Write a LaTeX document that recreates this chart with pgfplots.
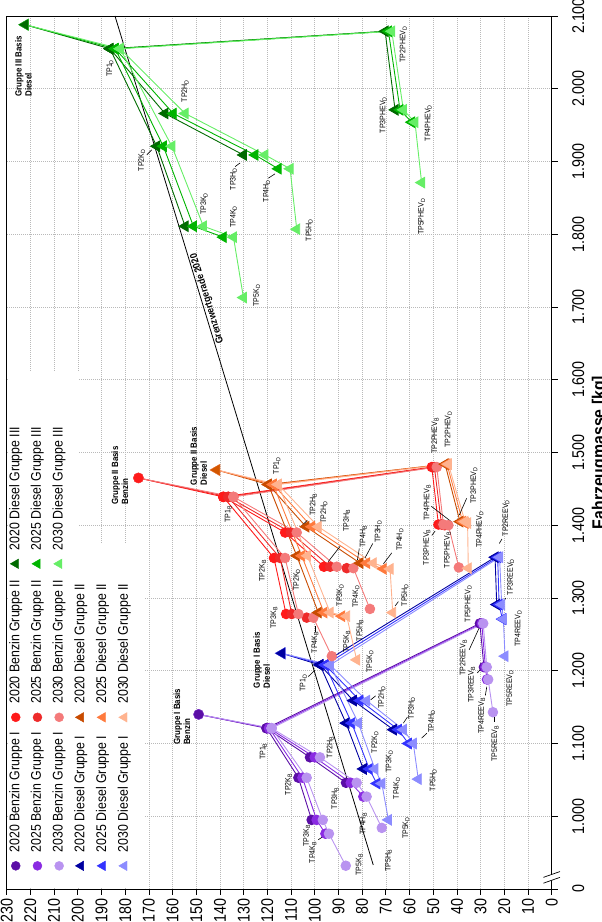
\documentclass[border=0pt]{standalone}
\usepackage{fontspec}
\setmainfont{Liberation Sans}
\newfontfamily\nar[FakeStretch=0.88]{Liberation Sans}
\newfontfamily\tnar[FakeStretch=0.84]{Liberation Sans}
\usepackage{graphicx}
\usepackage{pgfplots}
\pgfplotsset{compat=1.18}

% Gruppe I Benzin / Diesel, Gruppe II Benzin / Diesel, Gruppe III Diesel
\definecolor{pA}{HTML}{5B0EA6}
\definecolor{pB}{HTML}{8A2BE2}
\definecolor{pC}{HTML}{B993F0}
\definecolor{bA}{HTML}{0000A0}
\definecolor{bB}{HTML}{3333FF}
\definecolor{bC}{HTML}{8C8CFF}
\definecolor{rA}{HTML}{FF1A1A}
\definecolor{rB}{HTML}{EE2A2A}
\definecolor{rC}{HTML}{F47A7A}
\definecolor{oA}{HTML}{C84B00}
\definecolor{oB}{HTML}{FF7A3D}
\definecolor{oC}{HTML}{FFB38F}
\definecolor{gA}{HTML}{006B00}
\definecolor{gB}{HTML}{00B400}
\definecolor{gC}{HTML}{66EE66}

\newcommand\tp[2]{#1\textsubscript{#2}}
\newcommand\lent[2]{\makebox[#1][l]{#2}}

\pgfplotsset{
  ser/.style 2 args={color=#1, line width=0.9pt, mark=#2,
    mark options={solid, fill=#1, draw=#1}, unbounded coords=jump},
  circ/.style={ser={#1}{*}, mark size=4.8pt},
  tri/.style={ser={#1}{triangle*}, mark size=6pt},
  lc/.style={only marks, mark=*, mark size=4.5pt, draw=#1, fill=#1},
  lt/.style={only marks, mark=triangle*, mark size=5.5pt, draw=#1, fill=#1},
}
\tikzset{
  lb/.style={font=\nar\fontsize{8}{8}\selectfont, inner sep=0pt},
  gb/.style={font=\nar\bfseries\fontsize{9}{10}\selectfont, inner sep=0pt, align=left, anchor=west},
  ld/.style={black, line width=0.6pt},
}

\begin{document}
\rotatebox{90}{%
\begin{tikzpicture}
\useasboundingbox (-33pt,-50.3pt) rectangle (889pt,551.7pt);
\begin{axis}[
  at={(0,0)}, anchor=south west,
  scale only axis, width=873pt, height=545pt,
  xmin=900, xmax=2100, ymin=0, ymax=230,
  clip=false,
  axis line style={black, line width=0.8pt},
  xtick={900,1000,...,2100},
  xticklabels={0,1.000,1.100,1.200,1.300,1.400,1.500,1.600,1.700,1.800,1.900,2.000,2.100},
  ytick={0,10,...,230},
  /pgf/number format/assume math mode=true,
  tick align=outside, xtick pos=bottom, ytick pos=left,
  major tick length=6pt,
  tick style={black, line width=0.7pt},
  grid=major,
  major grid style={gray!55, line width=0.5pt, dash pattern=on 1pt off 1pt},
  ticklabel style={font=\tnar\fontsize{17}{17}\selectfont},
  xticklabel style={yshift=-11pt},
  xlabel={Fahrzeugmasse [kg]},
  xlabel style={font=\nar\bfseries\fontsize{18}{18}\selectfont,
    at={(axis description cs:0.5,0)}, anchor=north, inner sep=0pt, yshift=-40pt},
  legend columns=3,
  legend cell align=left,
  legend image code/.code={\draw[#1] plot coordinates {(0pt,0pt)};},
  legend style={at={(axis cs:925,229)}, anchor=north west, draw=none, fill=none,
    inner sep=0pt, row sep=8.7pt,
    font=\nar\fontsize{14}{14}\selectfont,
    nodes={inner sep=0pt, text height=10pt, text depth=3pt},
    /tikz/every odd column/.append style={column sep=9pt}},
]
% white box behind the legend
\fill[white] (axis cs:901,171.5) rectangle (axis cs:1375,229.6);
\fill[white] (axis cs:1375,199.5) rectangle (axis cs:1610,229.6);

% Grenzwertgerade 2020
\addplot[black, line width=0.8pt, forget plot] coordinates {(933,75.3) (2100,184.3)}
  node[pos=0.665, below=0pt, inner sep=1pt, sloped, font=\nar\bfseries\fontsize{10}{10}\selectfont] {Grenzwertgerade 2020};

% ---- Gruppe I Benzin
\addplot[circ=pA, forget plot] coordinates {
 (1140,149) (1121,120.3) (1053,106.9) (995,101.3) (nan,nan)
 (1121,120.3) (1081,102) (1046,86.8) (nan,nan)
 (1121,120.3) (1265,30.3) (1205,28.6)};
\addplot[circ=pB, forget plot] coordinates {
 (1140,149) (1121,119.2) (1053,105.2) (995,99.2) (976,95.5) (nan,nan)
 (1121,119.2) (1081,100) (1046,84.8) (1027,79.5) (nan,nan)
 (1121,119.2) (1265,29.5) (1205,28) (1188,27.3)};
\addplot[circ=pC, forget plot] coordinates {
 (1140,149) (1121,118.2) (1053,103.4) (995,96.6) (976,94) (932,86.9) (nan,nan)
 (1121,118.2) (1081,97.8) (1046,82.3) (1027,78.1) (984,71.7) (nan,nan)
 (1121,118.2) (1265,28.9) (1205,27.4) (1188,26.8) (1143,24.8)};
% ---- Gruppe I Diesel
\addplot[tri=bA, forget plot] coordinates {
 (1224,113.9) (1208,97.8) (1128,86.8) (1065,79.5) (nan,nan)
 (1208,97.8) (1159,83.7) (1119,66.8) (nan,nan)
 (1208,97.8) (1356,23.9) (1291,23.2)};
\addplot[tri=bB, forget plot] coordinates {
 (1224,113.9) (1208,95.6) (1128,84.4) (1065,77) (1045,73.8) (nan,nan)
 (1208,95.6) (1159,80.9) (1119,64.7) (1100,60.5) (nan,nan)
 (1208,95.6) (1356,22.8) (1291,22.2) (1271,20.8)};
\addplot[tri=bC, forget plot] coordinates {
 (1224,113.9) (1208,93.5) (1128,81.6) (1065,74.6) (1045,71.7) (995,68.9) (nan,nan)
 (1208,93.5) (1159,78.1) (1119,62.6) (1100,58.4) (1051,56.3) (nan,nan)
 (1208,93.5) (1356,22) (1291,21.1) (1271,20.4) (1220,19.7)};
% ---- Gruppe II Benzin
\addplot[circ=rA, forget plot] coordinates {
 (1465,174.4) (1439,138.6) (1355,117.2) (1278,112.1) (nan,nan)
 (1439,138.6) (1390,112.5) (1343,96.1) (nan,nan)
 (1439,138.6) (1480,50.6) (1401,47.8)};
\addplot[circ=rB, forget plot] coordinates {
 (1465,174.4) (1439,136.5) (1355,114.6) (1278,109.7) (1273,103.4) (nan,nan)
 (1439,136.5) (1390,110.1) (1343,93.5) (1341,86.5) (nan,nan)
 (1439,136.5) (1480,49.5) (1401,46.5) (1400,45.2)};
\addplot[circ=rC, forget plot] coordinates {
 (1465,174.4) (1439,134.3) (1355,112.5) (1278,106.9) (1273,100.6) (1220,92.8) (nan,nan)
 (1439,134.3) (1390,107.6) (1343,90.7) (1341,83.7) (1285,76.7) (nan,nan)
 (1439,134.3) (1480,48.5) (1401,45.7) (1400,43.6) (1342,39.2)};
% ---- Gruppe II Diesel
\addplot[tri=oA, forget plot] coordinates {
 (1476,141.4) (1456,119.6) (1358,107.6) (1280,98.5) (nan,nan)
 (1456,119.6) (1398,103.7) (1348,80.9) (nan,nan)
 (1456,119.6) (1484,45) (1405,38.7)};
\addplot[tri=oB, forget plot] coordinates {
 (1476,141.4) (1456,117.5) (1358,105.5) (1280,96.1) (1275,88.6) (nan,nan)
 (1456,117.5) (1398,101.3) (1348,78.1) (1340,71.1) (nan,nan)
 (1456,117.5) (1484,44.2) (1405,37.6) (1403,36.5)};
\addplot[tri=oC, forget plot] coordinates {
 (1476,141.4) (1456,115.4) (1358,103.1) (1280,93.5) (1275,86.5) (1215,82.3) (nan,nan)
 (1456,115.4) (1398,98.5) (1348,75.3) (1340,68.2) (1280,67.1) (nan,nan)
 (1456,115.4) (1484,43.6) (1405,36.6) (1403,35.5) (1341,35.2)};
% ---- Gruppe III Diesel
\addplot[tri=gA, forget plot] coordinates {
 (2088,222.2) (2055,186.4) (1921,166.7) (1811,154.7) (nan,nan)
 (2055,186.4) (1966,163.2) (1909,130.1) (nan,nan)
 (2055,186.4) (2079,70.3) (1971,66.1)};
\addplot[tri=gB, forget plot] coordinates {
 (2088,222.2) (2055,184.2) (1921,163.9) (1811,151.2) (1796,138.6) (nan,nan)
 (2055,184.2) (1966,159.7) (1909,125.2) (1890,115.4) (nan,nan)
 (2055,184.2) (2079,68.9) (1971,64) (1954,59.1)};
\addplot[tri=gC, forget plot] coordinates {
 (2088,222.2) (2055,182.1) (1921,160.3) (1811,147) (1796,134.3) (1713,130.1) (nan,nan)
 (2055,182.1) (1966,154.7) (1909,121) (1890,110.4) (1807,107.6) (nan,nan)
 (2055,182.1) (2079,67.5) (1971,62.6) (1954,57.7) (1871,54.9)};
% ---- Basis points
\addplot[only marks, mark=*, mark size=4.8pt, color=pA, forget plot] coordinates {(1140,149)};
\addplot[only marks, mark=triangle*, mark size=6pt, color=bA, forget plot] coordinates {(1224,113.9)};
\addplot[only marks, mark=*, mark size=4.8pt, color=rA, forget plot] coordinates {(1465,174.4)};
\addplot[only marks, mark=triangle*, mark size=6pt, color=oA!80!orange, forget plot] coordinates {(1476,141.4)};
\addplot[only marks, mark=triangle*, mark size=6pt, color=gA, forget plot] coordinates {(2088,222.2)};

% ---- labels
\node[gb] at (axis cs:1989,223) {Gruppe III Basis\\Diesel};
\node[gb] at (axis cs:1428,182.2) {Gruppe II Basis\\Benzin};
\node[gb] at (axis cs:1455,149) {Gruppe II Basis\\Diesel};
\node[gb] at (axis cs:1098,156.1) {Gruppe I Basis\\Benzin};
\node[gb] at (axis cs:1176,122.4) {Gruppe I Basis\\Diesel};

\node[lb] at (axis cs:2028,186.4) {\tp{TP1}{D}};
\node[lb] at (axis cs:1997,154.7) {\tp{TP2H}{D}};
\node[lb] at (axis cs:1902,173) {\tp{TP2K}{D}};
\draw[ld] (axis cs:1909,170.9) -- (axis cs:1916,168.8);
\node[lb] at (axis cs:1876,134.3) {\tp{TP3H}{D}};
\draw[ld] (axis cs:1893,133.6) -- (axis cs:1898,131.5);
\node[lb] at (axis cs:1859.5,120.3) {\tp{TP4H}{D}};
\draw[ld] (axis cs:1877,119.6) -- (axis cs:1883,116.8);
\node[lb] at (axis cs:1842,146.7) {\tp{TP3K}{D}};
\node[lb] at (axis cs:1824,134.3) {\tp{TP4K}{D}};
\node[lb] at (axis cs:1716,124.5) {\tp{TP5K}{D}};
\node[lb] at (axis cs:1806,102.3) {\tp{TP5H}{D}};
\node[lb] at (axis cs:2061,62.6) {\tp{TP2PHEV}{D}};
\node[lb] at (axis cs:1964,71.1) {\tp{TP3PHEV}{D}};
\node[lb] at (axis cs:1953,52.1) {\tp{TP4PHEV}{D}};
\node[lb] at (axis cs:1824,54.9) {\tp{TP5PHEV}{D}};

\node[lb] at (axis cs:1482,116) {\tp{TP1}{D}};
\node[lb] at (axis cs:1415,136.5) {\tp{TP1}{B}};
\node[lb] at (axis cs:1428,100.6) {\tp{TP2H}{B}};
\draw[ld] (axis cs:1407,103.1) -- (axis cs:1399,105.5);
\node[lb] at (axis cs:1418,96.1) {\tp{TP2H}{D}};
\node[lb] at (axis cs:1406,86.5) {\tp{TP3H}{B}};
\draw[ld] (axis cs:1371,89.3) -- (axis cs:1350,94.3);
\node[lb] at (axis cs:1384,79.5) {\tp{TP4H}{B}};
\draw[ld] (axis cs:1368,81.2) -- (axis cs:1352,82);
\node[lb] at (axis cs:1391,73.2) {\tp{TP3H}{D}};
\draw[ld] (axis cs:1375,75.5) -- (axis cs:1355,78.8);
\node[lb] at (axis cs:1380,64) {\tp{TP4H}{D}};
\draw[ld] (axis cs:1362,67.5) -- (axis cs:1347,71);
\node[lb] at (axis cs:1337.5,122) {\tp{TP2K}{B}};
\node[lb] at (axis cs:1325,107.6) {\tp{TP2K}{D}};
\node[lb] at (axis cs:1304,89.3) {\tp{TP3K}{D}};
\node[lb] at (axis cs:1302,82.6) {\tp{TP4K}{D}};
\node[lb] at (axis cs:1273,117.2) {\tp{TP3K}{B}};
\node[lb] at (axis cs:1239,99.9) {\tp{TP4K}{B}};
\draw[ld] (axis cs:1253,99.9) -- (axis cs:1262,99.9);
\node[lb] at (axis cs:1240,86.5) {\tp{TP5K}{B}};
\node[lb] at (axis cs:1256,80.9) {\tp{TP5H}{B}};
\node[lb] at (axis cs:1212.6,76.7) {\tp{TP5K}{D}};
\node[lb] at (axis cs:1304,61.9) {\tp{TP5H}{D}};
\draw[ld] (axis cs:1295,64.7) -- (axis cs:1289,66.1);
\node[lb] at (axis cs:1523,49.2) {\tp{TP2PHEV}{B}};
\node[lb] at (axis cs:1532,43.6) {\tp{TP2PHEV}{D}};
\node[lb] at (axis cs:1431,52.5) {\tp{TP4PHEV}{B}};
\draw[ld] (axis cs:1426,50.8) -- (axis cs:1404,42);
\node[lb] at (axis cs:1455,32.8) {\tp{TP3PHEV}{D}};
\draw[ld] (axis cs:1437,35.9) -- (axis cs:1414,39);
\node[lb] at (axis cs:1394,30.3) {\tp{TP4PHEV}{D}};
\node[lb] at (axis cs:1370,52.7) {\tp{TP3PHEV}{B}};
\draw[ld] (axis cs:1386,50.6) -- (axis cs:1392,49.2);
\node[lb] at (axis cs:1366,44) {\tp{TP5PHEV}{B}};
\node[lb] at (axis cs:1292,35.2) {\tp{TP5PHEV}{D}};

\node[lb] at (axis cs:1089,121.7) {\tp{TP1}{B}};
\node[lb] at (axis cs:1044,111.1) {\tp{TP2K}{B}};
\node[lb] at (axis cs:973.5,103.4) {\tp{TP3K}{B}};
\node[lb] at (axis cs:950.5,100.8) {\tp{TP4K}{B}};
\draw[ld] (axis cs:967.7,98.5) -- (axis cs:973,96.1);
\node[lb] at (axis cs:933.4,81.2) {\tp{TP5K}{B}};
\node[lb] at (axis cs:1094.8,93.5) {\tp{TP2H}{B}};
\node[lb] at (axis cs:1025,91.4) {\tp{TP3H}{B}};
\node[lb] at (axis cs:989.4,79.5) {\tp{TP4H}{B}};
\node[lb] at (axis cs:939,68.9) {\tp{TP5H}{B}};
\node[lb] at (axis cs:1183,104.8) {\tp{TP1}{D}};
\draw[ld] (axis cs:1192,102.7) -- (axis cs:1201,99.9);
\node[lb] at (axis cs:1163.5,71.7) {\tp{TP2H}{D}};
\draw[ld] (axis cs:1165.5,74.3) -- (axis cs:1160,76.4);
\node[lb] at (axis cs:1148.6,59.1) {\tp{TP3H}{D}};
\draw[ld] (axis cs:1136.3,60.9) -- (axis cs:1128,62.6);
\node[lb] at (axis cs:1130,50.6) {\tp{TP4H}{D}};
\draw[ld] (axis cs:1114,52.7) -- (axis cs:1107.4,54.9);
\node[lb] at (axis cs:1101.7,74.6) {\tp{TP2K}{D}};
\node[lb] at (axis cs:1075.3,68.5) {\tp{TP3K}{D}};
\node[lb] at (axis cs:1038.7,65.4) {\tp{TP4K}{D}};
\node[lb] at (axis cs:983.8,61.5) {\tp{TP5K}{D}};
\node[lb] at (axis cs:1050,50) {\tp{TP5H}{D}};
\node[lb] at (axis cs:1218,37.3) {\tp{TP2REEV}{B}};
\draw[ld] (axis cs:1229,34.8) -- (axis cs:1261,30.3);
\node[lb] at (axis cs:1180.7,33.8) {\tp{TP3REEV}{B}};
\draw[ld] (axis cs:1197,31.4) -- (axis cs:1206,29);
\node[lb] at (axis cs:1138,29.5) {\tp{TP4REEV}{B}};
\draw[ld] (axis cs:1166,28) -- (axis cs:1178,27.4);
\node[lb] at (axis cs:1100,23.9) {\tp{TP5REEV}{B}};
\draw[ld] (axis cs:1130,24.3) -- (axis cs:1139,24.3);
\node[lb] at (axis cs:1410,19.3) {\tp{TP2REEV}{D}};
\draw[ld] (axis cs:1375,22.1) -- (axis cs:1381,21);
\node[lb] at (axis cs:1329,17.3) {\tp{TP3REEV}{D}};
\draw[ld] (axis cs:1300,19.3) -- (axis cs:1294,20.7);
\node[lb] at (axis cs:1258,14.1) {\tp{TP4REEV}{D}};
\node[lb] at (axis cs:1176,17.6) {\tp{TP5REEV}{D}};

% axis break marks
\fill[white] (axis cs:908,3.5) -- (axis cs:916,-3.5) -- (axis cs:924,-3.5) -- (axis cs:916,3.5) -- cycle;
\draw[black, line width=0.7pt] (axis cs:908,3.5) -- (axis cs:916,-3.5);
\draw[black, line width=0.7pt] (axis cs:916,3.5) -- (axis cs:924,-3.5);

% ---- legend, row by row
\addlegendimage{lc=pA}\addlegendentry{\lent{130pt}{2020 Benzin Gruppe I}}
\addlegendimage{lc=rA}\addlegendentry{\lent{135pt}{2020 Benzin Gruppe II}}
\addlegendimage{lt=gA}\addlegendentry{2020 Diesel Gruppe III}
\addlegendimage{lc=pB}\addlegendentry{\lent{130pt}{2025 Benzin Gruppe I}}
\addlegendimage{lc=rB}\addlegendentry{\lent{135pt}{2025 Benzin Gruppe II}}
\addlegendimage{lt=gB}\addlegendentry{2025 Diesel Gruppe III}
\addlegendimage{lc=pC}\addlegendentry{\lent{130pt}{2030 Benzin Gruppe I}}
\addlegendimage{lc=rC}\addlegendentry{\lent{135pt}{2030 Benzin Gruppe II}}
\addlegendimage{lt=gC}\addlegendentry{2030 Diesel Gruppe III}
\addlegendimage{lt=bA}\addlegendentry{\lent{130pt}{2020 Diesel Gruppe I}}
\addlegendimage{lt=oA}\addlegendentry{\lent{135pt}{2020 Diesel Gruppe II}}
\addlegendimage{empty legend}\addlegendentry{}
\addlegendimage{lt=bB}\addlegendentry{\lent{130pt}{2025 Diesel Gruppe I}}
\addlegendimage{lt=oB}\addlegendentry{\lent{135pt}{2025 Diesel Gruppe II}}
\addlegendimage{empty legend}\addlegendentry{}
\addlegendimage{lt=bC}\addlegendentry{\lent{130pt}{2030 Diesel Gruppe I}}
\addlegendimage{lt=oC}\addlegendentry{\lent{135pt}{2030 Diesel Gruppe II}}
\addlegendimage{empty legend}\addlegendentry{}
\end{axis}
\end{tikzpicture}}
\end{document}
